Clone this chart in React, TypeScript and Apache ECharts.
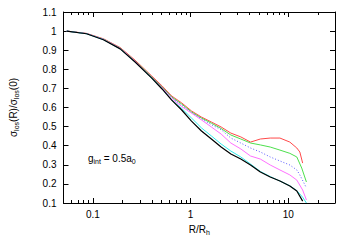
import React, { useEffect, useRef } from 'react';
import * as echarts from 'echarts';

const xCommon = [0.054, 0.086, 0.128, 0.19, 0.27, 0.4, 0.51, 0.64, 0.81, 1.02, 1.29, 1.63, 2.05, 2.58, 3.26, 4.1, 5.17, 6.52, 8.2, 10.35, 12.2];

const xRed = [...xCommon, 13.1, 14.0];
const yRed = [1.0, 0.988, 0.96, 0.914, 0.848, 0.765, 0.713, 0.66, 0.624, 0.582, 0.55, 0.524, 0.498, 0.466, 0.446, 0.419, 0.435, 0.44, 0.44, 0.419, 0.388, 0.367, 0.309];

const xGreen = [...xCommon, 13.7, 15.3];
const yGreen = [1.0, 0.987, 0.958, 0.911, 0.844, 0.76, 0.708, 0.655, 0.618, 0.577, 0.545, 0.518, 0.49, 0.456, 0.435, 0.414, 0.404, 0.393, 0.377, 0.36, 0.341, 0.283, 0.21];

const xBlue = [...xCommon, 13.1, 15.3];
const yBlue = [1.0, 0.987, 0.957, 0.91, 0.842, 0.758, 0.705, 0.652, 0.612, 0.573, 0.54, 0.51, 0.484, 0.44, 0.414, 0.388, 0.367, 0.341, 0.32, 0.299, 0.273, 0.247, 0.179];

const xMagenta = [...xCommon, 14.0, 15.3];
const yMagenta = [1.0, 0.987, 0.957, 0.91, 0.842, 0.757, 0.703, 0.648, 0.605, 0.571, 0.535, 0.498, 0.461, 0.414, 0.383, 0.346, 0.33, 0.299, 0.273, 0.247, 0.22, 0.168, 0.116];

const xCyan = [...xCommon, 14.0, 15.3];
const yCyan = [1.0, 0.986, 0.955, 0.907, 0.838, 0.754, 0.697, 0.64, 0.595, 0.545, 0.493, 0.451, 0.409, 0.372, 0.341, 0.304, 0.265, 0.238, 0.215, 0.19, 0.165, 0.13, 0.1];

const xBlack = [...xCommon, 14.0];
const yBlack = [1.0, 0.986, 0.955, 0.907, 0.838, 0.754, 0.697, 0.639, 0.587, 0.529, 0.477, 0.435, 0.393, 0.357, 0.33, 0.299, 0.262, 0.236, 0.215, 0.189, 0.163, 0.11];

const minorTicks = [0.06, 0.07, 0.08, 0.09, 0.2, 0.3, 0.4, 0.5, 0.6, 0.7, 0.8, 0.9, 2, 3, 4, 5, 6, 7, 8, 9, 20];

const X_MIN = 0.05;
const X_MAX = 30;
const Y_MIN = 0.1;
const Y_MAX = 1.1;

const FONT = '"Liberation Sans", Arial, Helvetica, sans-serif';

const zip = (xs: number[], ys: number[]) => ys.map((y, i) => [xs[i], y]);

export default function App() {
  const ref = useRef<HTMLDivElement>(null);
  useEffect(() => {
    if (!ref.current) return;
    const chart = echarts.init(ref.current, undefined, { renderer: 'svg' });
    const logLabel = (v: number) => {
      const l = Math.log10(v);
      if (Math.abs(l - Math.round(l)) < 1e-6) return String(+v.toPrecision(6));
      return '';
    };
    const line = (name: string, xs: number[], ys: number[], color: string, type: any, width = 1) => ({
      name,
      type: 'line',
      data: zip(xs, ys),
      showSymbol: false,
      symbol: 'none',
      smooth: false,
      lineStyle: { color, width, type },
      z: 3,
    });
    const rich = {
      n: { fontSize: 10, fontFamily: FONT, color: '#000', lineHeight: 13 },
      s: { fontSize: 7, fontFamily: FONT, color: '#000', lineHeight: 6, verticalAlign: 'bottom' },
    };
    chart.setOption({
      animation: false,
      grid: { left: 59, right: 15, top: 12, bottom: 42, containLabel: false },
      xAxis: [
        {
          type: 'log',
          logBase: 10,
          min: X_MIN,
          max: X_MAX,
          position: 'bottom',
          axisLine: { lineStyle: { color: '#000', width: 1 } },
          axisTick: { inside: true, length: 5, lineStyle: { color: '#000' } },
          axisLabel: { formatter: logLabel, color: '#000', fontSize: 10, fontFamily: FONT, margin: 6 },
          splitLine: { show: false },
          name: '{n|R/R}{s|h}',
          nameLocation: 'middle',
          nameGap: 20,
          nameTextStyle: { rich },
        },
        {
          type: 'log',
          logBase: 10,
          min: X_MIN,
          max: X_MAX,
          position: 'top',
          axisLine: { lineStyle: { color: '#000', width: 1 } },
          axisTick: { inside: true, length: 5, lineStyle: { color: '#000' } },
          axisLabel: { show: false },
          splitLine: { show: false },
        },
      ],
      yAxis: [
        {
          type: 'value',
          min: Y_MIN,
          max: Y_MAX,
          interval: 0.1,
          position: 'left',
          axisLine: { show: true, lineStyle: { color: '#000', width: 1 } },
          axisTick: { show: true, inside: true, length: 5, lineStyle: { color: '#000' } },
          axisLabel: {
            formatter: (v: number) => String(+v.toFixed(1)),
            color: '#000',
            fontSize: 10,
            fontFamily: FONT,
            margin: 7,
          },
          splitLine: { show: false },
          name: '{n|σ}{s|los}{n|(R)/σ}{s|los}{n|(0)}',
          nameLocation: 'middle',
          nameRotate: 90,
          nameGap: 44,
          nameTextStyle: { rich },
        },
        {
          type: 'value',
          min: Y_MIN,
          max: Y_MAX,
          interval: 0.1,
          position: 'right',
          axisLine: { show: true, lineStyle: { color: '#000', width: 1 } },
          axisTick: { show: true, inside: true, length: 5, lineStyle: { color: '#000' } },
          axisLabel: { show: false },
          splitLine: { show: false },
        },
      ],
      graphic: [
        {
          type: 'text',
          x: 88,
          y: 158,
          style: {
            text: '{n|g}{s|int}{n| = 0.5a}{s|0}',
            rich,
            verticalAlign: 'middle',
          },
        },
      ],
      series: [
        line('red', xRed, yRed, '#ff4a4a', 'solid'),
        line('green', xGreen, yGreen, '#4de04d', 'solid'),
        line('blue', xBlue, yBlue, '#5a5aff', [1, 2]),
        line('magenta', xMagenta, yMagenta, '#ff70ff', 'solid'),
        line('cyan', xCyan, yCyan, '#2ee8e8', 'solid'),
        line('black', xBlack, yBlack, '#000000', 'solid', 1.2),
        {
          type: 'custom',
          silent: true,
          clip: false,
          data: minorTicks.map((t) => [t, Y_MIN]),
          renderItem: (_params: any, api: any) => {
            const x = api.value(0);
            const b = api.coord([x, Y_MIN]);
            const t = api.coord([x, Y_MAX]);
            const px = Math.round(b[0]) + 0.5;
            return {
              type: 'group',
              children: [
                { type: 'line', shape: { x1: px, y1: b[1], x2: px, y2: b[1] - 3 }, style: { stroke: '#000', lineWidth: 1 } },
                { type: 'line', shape: { x1: px, y1: t[1], x2: px, y2: t[1] + 3 }, style: { stroke: '#000', lineWidth: 1 } },
              ],
            };
          },
          z: 4,
        },
      ],
    });
    return () => chart.dispose();
  }, []);
  return <div ref={ref} style={{ width: 350, height: 245, position: 'absolute', left: 0, top: 0 }} />;
}
